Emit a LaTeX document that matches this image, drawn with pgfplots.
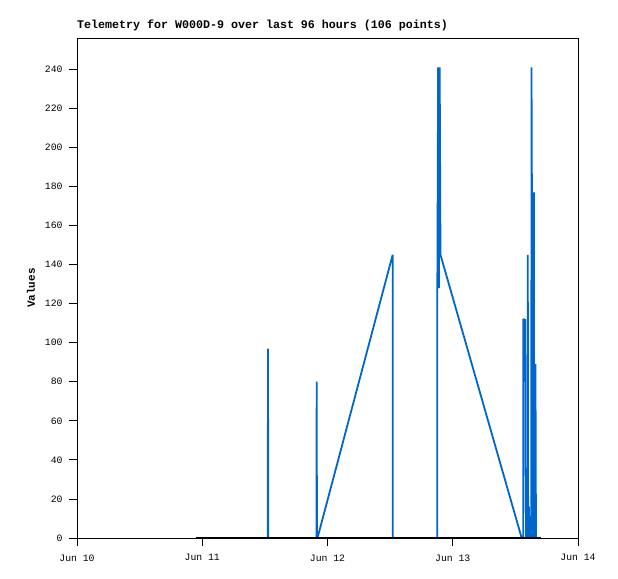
\documentclass[border=0pt]{standalone}
\usepackage{fontspec}
\setmainfont{Liberation Mono}
\usepackage{pgfplots}
\pgfplotsset{compat=1.18}
\definecolor{serblue}{RGB}{0,102,204}
\begin{document}
\begin{tikzpicture}
\begin{axis}[
  at={(0,0)}, anchor=south west,
  scale only axis, width=501bp, height=500bp,
  xmin=0, xmax=96, ymin=0, ymax=256,
  xtick={0,24,48,72,96},
  xticklabels={Jun 10,Jun 11,Jun 12,Jun 13,Jun 14},
  ytick={0,20,...,240},
  tick align=outside,
  major tick length=8bp,
  xtick pos=bottom, ytick pos=left,
  tick style={black, line width=0.8bp},
  axis line style={line width=0.8bp},
  /pgf/number format/assume math mode=true,
  ticklabel style={font=\fontsize{9.8}{11}\selectfont},
  xticklabel style={yshift=-5bp},
  yticklabel style={xshift=-3bp},
  title={Telemetry for W000D-9 over last 96 hours (106 points)},
  title style={at={(0,1)}, anchor=base west, yshift=3.5bp, inner sep=0pt, font=\bfseries\fontsize{11.7}{13}\selectfont},
  ylabel={Values},
  ylabel style={at={(axis description cs:-0.092,0.5)}, anchor=center, font=\bfseries\fontsize{11}{13}\selectfont},
  clip=true,
]
\addplot[serblue, line width=1.8bp, line join=bevel] coordinates {
(22.8,0) (36.55,0) (36.6,97) (36.65,0) (45.88,0) (45.93,80) (45.98,0) (46.08,0)
(60.49,145) (60.5,0) (69.04,0) (69.04,121) (69.2,241) (69.35,128) (69.5,241) (69.65,145)
(85.21,0) (85.50,0) (85.52,112) (85.71,112) (85.75,96) (85.90,112) (85.95,40) (86.05,0)
(86.35,0) (86.38,145) (86.45,0) (86.60,16) (86.70,0) (87.05,0) (87.09,241) (87.25,113)
(87.35,0) (87.50,0) (87.55,177) (87.62,0) (87.80,0) (87.85,89) (87.95,0) (88.18,0)
};
\addplot[black, line width=1.8bp] coordinates {(22.8,0) (88.9,0)};
\end{axis}
\path[use as bounding box] (-77bp,-41bp) rectangle (541bp,538bp);
\end{tikzpicture}
\end{document}
